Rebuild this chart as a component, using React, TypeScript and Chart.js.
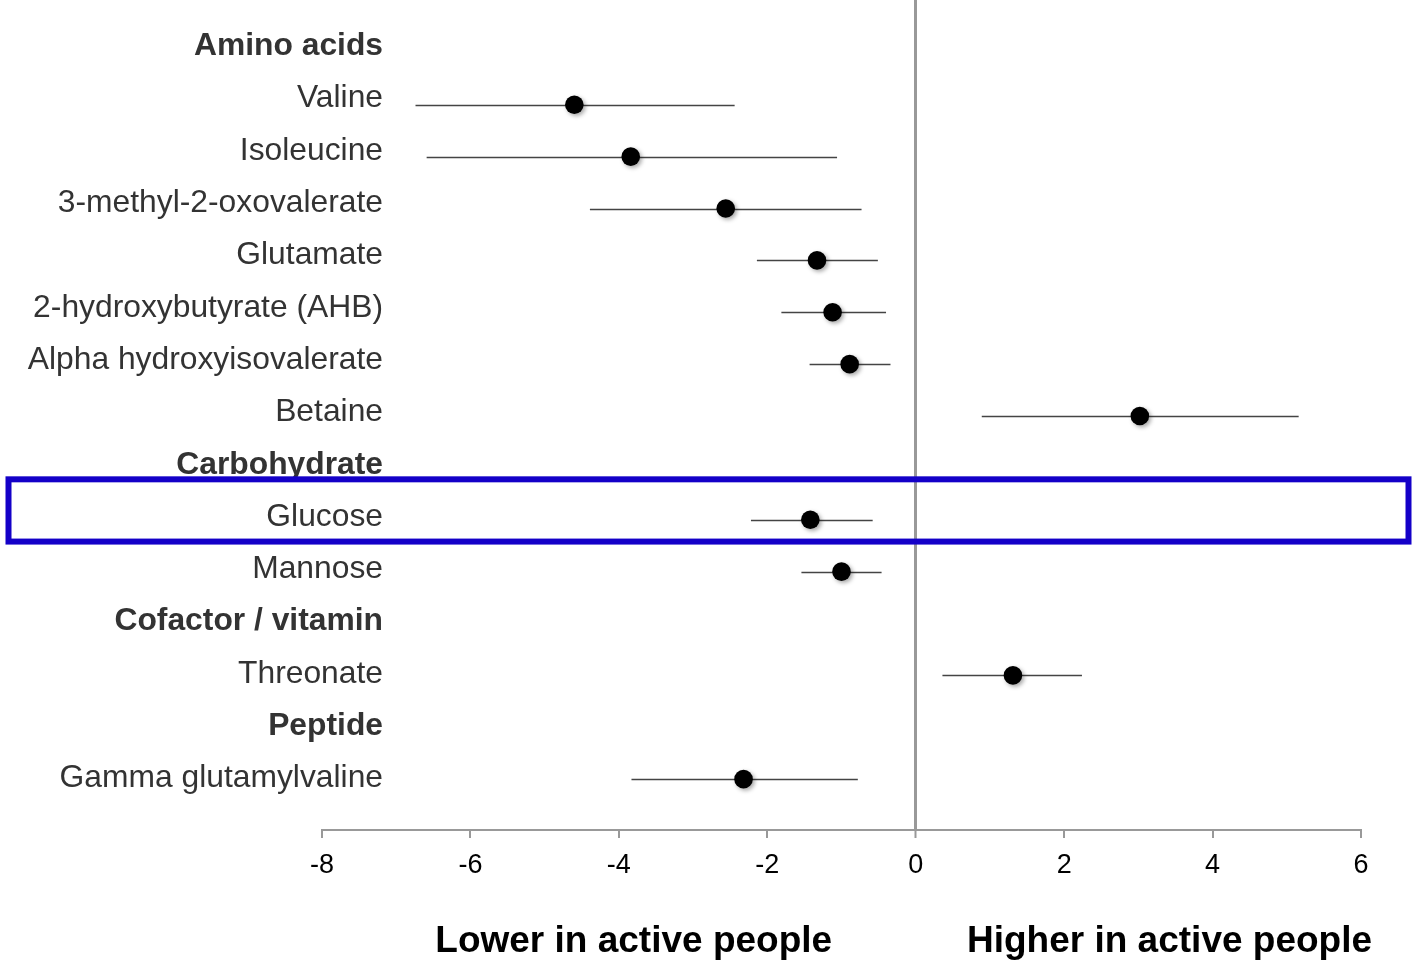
import React, { useEffect, useRef } from "react";
import { Chart, registerables } from "chart.js";

Chart.register(...registerables);

// Rows from top to bottom; group headers are drawn in bold with no marker.
const rowLabels = [
  "Amino acids",
  "Valine",
  "Isoleucine",
  "3-methyl-2-oxovalerate",
  "Glutamate",
  "2-hydroxybutyrate (AHB)",
  "Alpha hydroxyisovalerate",
  "Betaine",
  "Carbohydrate",
  "Glucose",
  "Mannose",
  "Cofactor / vitamin",
  "Threonate",
  "Peptide",
  "Gamma glutamylvaline",
];
const headerRows = [0, 8, 11, 13];

// Metabolites with an estimate and its confidence interval
const metaboliteRows = [1, 2, 3, 4, 5, 6, 7, 9, 10, 12, 14];
const estimates = [-4.6, -3.84, -2.56, -1.33, -1.12, -0.89, 3.02, -1.42, -1.0, 1.31, -2.32];
const lowerCI = [-6.74, -6.59, -4.39, -2.14, -1.81, -1.43, 0.89, -2.22, -1.54, 0.36, -3.83];
const upperCI = [-2.44, -1.06, -0.73, -0.51, -0.4, -0.34, 5.16, -0.58, -0.46, 2.24, -0.78];

const highlightedRow = 9;
const xTicks = [-8, -6, -4, -2, 0, 2, 4, 6];
const lowerText = "Lower in active people";
const higherText = "Higher in active people";

const FONT = '"Liberation Sans", Arial, Helvetica, sans-serif';

export default function App() {
  const canvasRef = useRef<HTMLCanvasElement | null>(null);

  useEffect(() => {
    const canvas = canvasRef.current;
    if (!canvas) return;

    const errorBars = {
      id: "errorBars",
      beforeDatasetsDraw(chart: any) {
        const { ctx, scales } = chart;
        const xs = scales.x;
        const ys = scales.y;
        ctx.save();
        ctx.strokeStyle = "#444444";
        ctx.lineWidth = 1.3;
        metaboliteRows.forEach((row, i) => {
          const y = Math.round(ys.getPixelForValue(row)) + 0.5;
          ctx.beginPath();
          ctx.moveTo(xs.getPixelForValue(lowerCI[i]), y);
          ctx.lineTo(xs.getPixelForValue(upperCI[i]), y);
          ctx.stroke();
        });
        ctx.restore();
      },
      beforeDatasetDraw(chart: any) {
        const ctx = chart.ctx;
        ctx.save();
        ctx.shadowColor = "rgba(0,0,0,0.35)";
        ctx.shadowBlur = 4;
        ctx.shadowOffsetX = 2;
        ctx.shadowOffsetY = 2;
      },
      afterDatasetDraw(chart: any) {
        chart.ctx.restore();
      },
    };

    const rowText = {
      id: "rowText",
      afterDraw(chart: any) {
        const { ctx, scales } = chart;
        const xs = scales.x;
        const ys = scales.y;
        ctx.save();
        ctx.textAlign = "right";
        ctx.textBaseline = "middle";
        ctx.fillStyle = "#333333";
        rowLabels.forEach((label, row) => {
          const bold = headerRows.includes(row);
          ctx.font = `${bold ? "bold " : ""}31.8px ${FONT}`;
          const y = ys.getPixelForValue(row) - 6.5 + row * 0.42;
          ctx.fillText(label, 383, y);
        });

        // Direction captions under the axis
        ctx.fillStyle = "#000000";
        ctx.textAlign = "center";
        ctx.font = `bold 37px ${FONT}`;
        ctx.fillText(lowerText, xs.getPixelForValue(-3.8), 942);
        ctx.fillText(higherText, xs.getPixelForValue(3.42), 942);

        // Highlight box around the glucose row
        const top = ys.getPixelForValue(highlightedRow - 0.78);
        const bottom = ys.getPixelForValue(highlightedRow + 0.42);
        ctx.strokeStyle = "#1400c8";
        ctx.lineWidth = 6;
        ctx.strokeRect(8.5, top, 1400, bottom - top);
        ctx.restore();
      },
    };

    const chart = new Chart(canvas, {
      type: "scatter",
      data: {
        datasets: [
          {
            data: metaboliteRows.map((row, i) => ({ x: estimates[i], y: row })),
            backgroundColor: "#000000",
            borderColor: "#000000",
            pointRadius: 9.3,
            pointHoverRadius: 9.3,
            borderWidth: 0,
          },
        ],
      },
      options: {
        responsive: false,
        animation: false,
        events: [],
        layout: { autoPadding: false, padding: { left: 322, right: 51, top: 0, bottom: 0 } },
        plugins: {
          legend: { display: false },
          tooltip: { enabled: false },
        },
        scales: {
          x: {
            type: "linear",
            position: "bottom",
            min: -8,
            max: 6,
            afterBuildTicks: (scale: any) => {
              scale.ticks = xTicks.map((v) => ({ value: v }));
            },
            afterFit: (scale: any) => {
              scale.height = 130;
            },
            grid: {
              drawOnChartArea: true,
              color: (c: any) => (c.tick && c.tick.value === 0 ? "#999999" : "rgba(0,0,0,0)"),
              lineWidth: (c: any) => (c.tick && c.tick.value === 0 ? 3 : 2),
              tickColor: "#999999",
              tickLength: 8,
              tickWidth: 2,
            },
            border: { display: true, color: "#999999", width: 2 },
            ticks: {
              color: "#000000",
              font: { family: FONT, size: 27 },
              padding: 11,
              maxRotation: 0,
            },
          },
          y: {
            type: "linear",
            display: false,
            reverse: true,
            min: -1.02,
            max: 14.98,
          },
        },
      },
      plugins: [errorBars, rowText],
    });

    return () => chart.destroy();
  }, []);

  return (
    <div style={{ position: "fixed", left: 0, top: 0, width: 1412, height: 960, background: "#ffffff" }}>
      <canvas ref={canvasRef} width={1412} height={960} style={{ width: 1412, height: 960 }} />
    </div>
  );
}
